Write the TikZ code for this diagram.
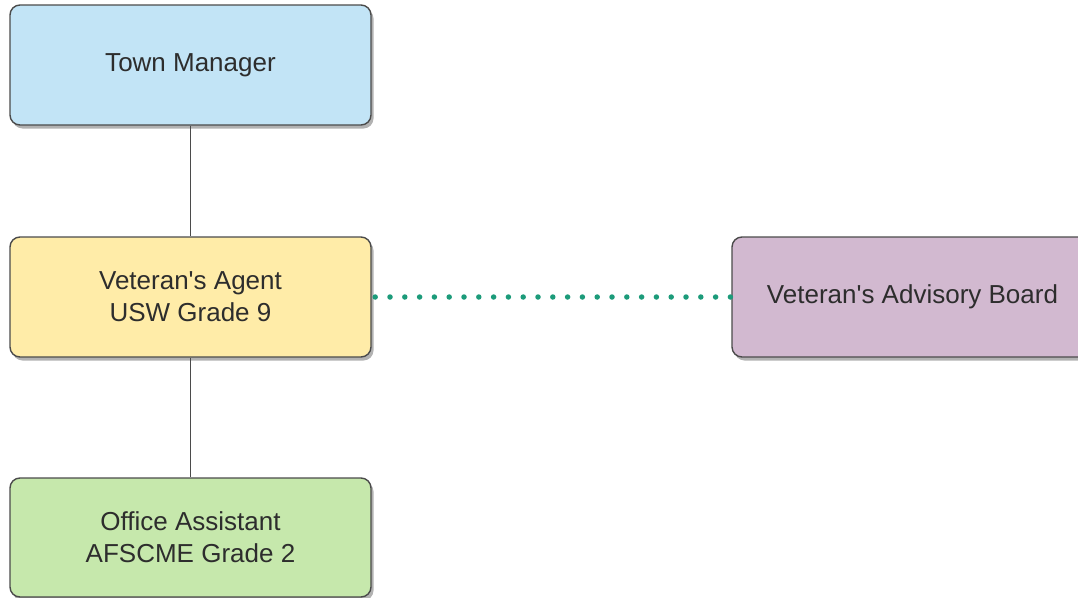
\documentclass[tikz,border=0pt]{standalone}
\usepackage{fontspec}
\setmainfont{Liberation Sans}
\usepackage{xcolor}
\usepackage{tikz}
\usetikzlibrary{shadows}
\definecolor{managerblue}{RGB}{194,228,246}
\definecolor{agentyellow}{RGB}{255,236,168}
\definecolor{assistgreen}{RGB}{198,232,172}
\definecolor{boardpurple}{RGB}{210,185,208}
\definecolor{boxline}{RGB}{75,75,75}
\definecolor{boxtext}{RGB}{45,45,45}
\definecolor{dotteal}{RGB}{28,155,122}

\begin{document}
\begin{tikzpicture}[x=1pt, y=-1pt]
\tikzset{orgbox/.style={draw=boxline, line width=1.4pt, rounded corners=10pt, minimum width=361pt, minimum height=120pt, inner sep=0pt, align=center, text=boxtext, font=\fontsize{26}{32}\selectfont, drop shadow={shadow xshift=2.5pt, shadow yshift=-3.5pt, opacity=0.3, fill=black}}}
\tikzset{solidlink/.style={draw=boxline, line width=1.5pt}}
\tikzset{dotlink/.style={draw=dotteal, line width=5.5pt, line cap=round, dash pattern=on 0pt off 14.8pt}}
    \useasboundingbox (0,0) rectangle (1078,597);

    \coordinate (TMc) at (190.5,65);
    \coordinate (VAc) at (190.5,297);
    \coordinate (OAc) at (190.5,537.5);
    \coordinate (VBc) at (912.5,297);

    \node[orgbox, fill=managerblue] (TM) at (TMc) {Town Manager};
    \node[orgbox, fill=agentyellow] (VA) at (VAc) {Veteran\textquotesingle s Agent\\USW Grade 9};
    \node[orgbox, fill=assistgreen, minimum height=119pt] (OA) at (OAc) {Office Assistant\\AFSCME Grade 2};
    \node[orgbox, fill=boardpurple] (VB) at (VBc) {Veteran\textquotesingle s Advisory Board};
% % % % % % % % % % % % % % % % % % %
    \draw[solidlink] (TM) -- (VA);
    \draw[solidlink] (VA) -- (OA);
    \draw[dotlink] ([xshift=3.5pt]VA.east) -- ([xshift=1pt]VB.west);
\end{tikzpicture}
\end{document}
